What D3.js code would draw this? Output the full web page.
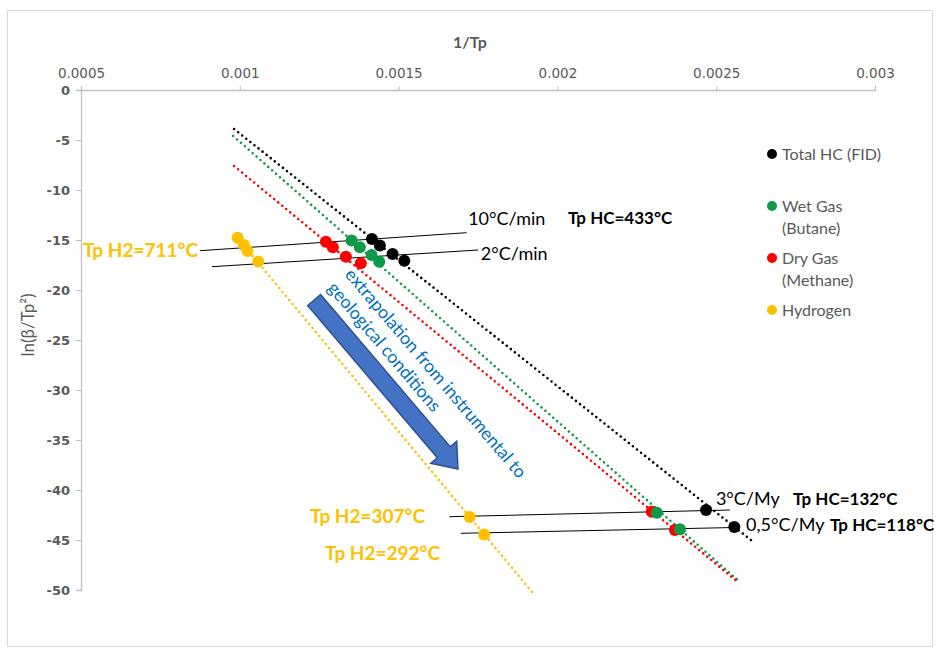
<!DOCTYPE html>
<html><head><meta charset="utf-8">
<script src="https://cdn.jsdelivr.net/npm/d3@7"></script>
<style>body{margin:0;background:#fff}svg{display:block}</style>
</head><body>
<svg id="chart" width="940" height="658"></svg>
<script>
// ---------- data ----------
const xTickValues = [0.0005, 0.001, 0.0015, 0.002, 0.0025, 0.003];
const xTickLabels = ["0.0005", "0.001", "0.0015", "0.002", "0.0025", "0.003"];
const yTickValues = [0, -5, -10, -15, -20, -25, -30, -35, -40, -45, -50];
const yTickLabels = ["0", "-5", "-10", "-15", "-20", "-25", "-30", "-35", "-40", "-45", "-50"];

const seriesNames = ["Total HC (FID)", "Wet Gas\n(Butane)", "Dry Gas\n(Methane)", "Hydrogen"];
const seriesColors = ["#000000", "#0E9A48", "#FF0000", "#FFC000"];

// measured (lab) points: 1/Tp, ln(beta/Tp^2)
const totalHCLab = [[0.001416, -14.9], [0.001441, -15.55], [0.001481, -16.4], [0.001518, -17.07]];
const wetGasLab  = [[0.001352, -15.05], [0.001378, -15.73], [0.001415, -16.5], [0.001439, -17.17]];
const dryGasLab  = [[0.001271, -15.17], [0.001293, -15.73], [0.001334, -16.67], [0.001381, -17.33]];
const hydrogenLab = [[0.000993, -14.78], [0.001013, -15.5], [0.001024, -16.1], [0.001058, -17.15]];

// extrapolated (geological) points
const totalHCGeo = [[0.002468, -42.0], [0.002557, -43.71]];
const wetGasGeo  = [[0.002313, -42.27], [0.002386, -43.93]];
const dryGasGeo  = [[0.002297, -42.17], [0.00237, -44.0]];
const hydrogenGeo = [[0.001724, -42.71], [0.001769, -44.45]];

// fitted (dotted) trend lines: start/end
const totalHCFit = [[0.000982, -3.9], [0.002613, -45.1]];
const wetGasFit  = [[0.000979, -4.6], [0.00257, -49.07]];
const dryGasFit  = [[0.000982, -7.6], [0.00257, -49.25]];
const hydrogenFit = [[0.000988, -14.6], [0.00192, -50.2]];

// iso-heating-rate guide lines
const guideLines = [
  [[0.000875, -16.07], [0.001714, -14.27]],   // 10°C/min
  [[0.000912, -17.67], [0.00175, -16.0]],     // 2°C/min
  [[0.00166, -42.67], [0.002543, -42.0]],     // 3°C/My
  [[0.001696, -44.33], [0.002557, -43.75]]    // 0,5°C/My
];

// annotations (anchor in data units)
const annotations = [
  {t: "10°C/min", x: 0.001719, y: -13.5, c: "#000", w: "normal", s: 18},
  {t: "2°C/min", x: 0.001759, y: -17.0, c: "#000", w: "normal", s: 18},
  {t: "Tp HC=433°C", x: 0.002033, y: -13.4, c: "#000", w: "bold", s: 17},
  {t: "Tp H2=711°C", x: 0.000506, y: -16.7, c: "#FFC000", w: "bold", s: 19},
  {t: "3°C/My", x: 0.002499, y: -41.5, c: "#000", w: "normal", s: 18},
  {t: "Tp HC=132°C", x: 0.002742, y: -41.5, c: "#000", w: "bold", s: 17},
  {t: "0,5°C/My", x: 0.002594, y: -44.1, c: "#000", w: "normal", s: 18},
  {t: "Tp HC=118°C", x: 0.002858, y: -44.1, c: "#000", w: "bold", s: 17},
  {t: "Tp H2=307°C", x: 0.001221, y: -43.3, c: "#FFC000", w: "bold", s: 19},
  {t: "Tp H2=292°C", x: 0.001268, y: -47.0, c: "#FFC000", w: "bold", s: 19}
];
const arrowTail = [0.001234, -21.0];
const arrowTip = [0.001687, -37.9];
const arrowText = ["extrapolation from instrumental to", "geological conditions"];

// ---------- drawing ----------
const svg = d3.select("#chart");
const FONT = "Lato, 'Open Sans', sans-serif";
const x = d3.scaleLinear().domain([0.0005, 0.003]).range([81, 875]);
const y = d3.scaleLinear().domain([0, -50]).range([90, 590]);

svg.append("rect").attr("x", 7.5).attr("y", 10.5).attr("width", 925).attr("height", 636)
  .attr("fill", "#fff").attr("stroke", "#D9D9D9").attr("stroke-width", 1);

// axes
const xAxis = d3.axisTop(x).tickValues(xTickValues).tickSize(4).tickPadding(8)
  .tickFormat((d, i) => xTickLabels[i]);
const gx = svg.append("g").attr("transform", `translate(0,${y(0)})`).call(xAxis);
gx.select(".domain").attr("stroke", "#BFBFBF").attr("stroke-width", 1.3);
gx.selectAll(".tick line").attr("stroke", "#BFBFBF");
gx.selectAll(".tick text").attr("fill", "#595959").style("font-family", "'DejaVu Sans', sans-serif")
  .style("font-size", "13.5px");

const yAxis = d3.axisLeft(y).tickValues(yTickValues).tickSize(5).tickPadding(6)
  .tickFormat((d, i) => yTickLabels[i]);
const gy = svg.append("g").attr("transform", `translate(${x(0.0005)},0)`).call(yAxis);
gy.select(".domain").attr("stroke", "#BFBFBF").attr("stroke-width", 1.3);
gy.selectAll(".tick line").attr("stroke", "#BFBFBF");
gy.selectAll(".tick text").attr("fill", "#595959").style("font-family", "'DejaVu Sans', sans-serif")
  .style("font-size", "13px").style("font-weight", "bold");

svg.append("text").attr("x", 470).attr("y", 48).attr("text-anchor", "middle")
  .attr("fill", "#595959").style("font-family", FONT).style("font-size", "16px").style("font-weight", "bold").text("1/Tp");
svg.append("text").attr("transform", "translate(34,325) rotate(-90)").attr("text-anchor", "middle")
  .attr("fill", "#595959").style("font-family", FONT).style("font-size", "17px").text("ln(β/Tp²)");

// dotted fit lines
const fits = [totalHCFit, wetGasFit, dryGasFit, hydrogenFit];
const line = d3.line().x(d => x(d[0])).y(d => y(d[1]));
svg.append("g").selectAll("path").data(fits).join("path")
  .attr("d", line).attr("fill", "none").attr("stroke", (d, i) => seriesColors[i])
  .attr("stroke-width", 2.6).attr("stroke-linecap", "round").attr("stroke-dasharray", "0,5.2");

// guide lines
svg.append("g").selectAll("path").data(guideLines).join("path")
  .attr("d", line).attr("fill", "none").attr("stroke", "#000").attr("stroke-width", 1);

// arrow
(function () {
  const tx = x(arrowTail[0]), ty = y(arrowTail[1]), hx = x(arrowTip[0]), hy = y(arrowTip[1]);
  const L = Math.hypot(hx - tx, hy - ty), ux = (hx - tx) / L, uy = (hy - ty) / L;
  const px = -uy, py = ux;
  const sw = 8.5, hw = 17, hl = 22;
  const bx = hx - ux * hl, by = hy - uy * hl;
  const pts = [
    [tx + px * sw, ty + py * sw], [bx + px * sw, by + py * sw], [bx + px * hw, by + py * hw],
    [hx, hy], [bx - px * hw, by - py * hw], [bx - px * sw, by - py * sw], [tx - px * sw, ty - py * sw]
  ];
  svg.append("path").attr("d", "M" + pts.map(p => p.join(",")).join("L") + "Z")
    .attr("fill", "#4472C4").attr("stroke", "#2F528F").attr("stroke-width", 1.5);
  const ang = Math.atan2(uy, ux) * 180 / Math.PI;
  const g = svg.append("g").attr("transform", `translate(${tx + 30},${ty - 25}) rotate(${ang})`);
  g.selectAll("text").data(arrowText).join("text")
    .attr("x", (d, i) => i === 0 ? 0 : -1).attr("y", (d, i) => i * 22)
    .attr("fill", "#0070C0").style("font-family", FONT).style("font-size", "17.8px").text(d => d);
})();

// points
const labSets = [totalHCLab, wetGasLab, dryGasLab, hydrogenLab];
const geoSets = [totalHCGeo, wetGasGeo, dryGasGeo, hydrogenGeo];
[2, 1, 0, 3].forEach(i => {
  svg.append("g").selectAll("circle").data(labSets[i].concat(geoSets[i])).join("circle")
    .attr("cx", d => x(d[0])).attr("cy", d => y(d[1])).attr("r", 6).attr("fill", seriesColors[i]);
});

// annotations
svg.append("g").selectAll("text").data(annotations).join("text")
  .attr("x", d => x(d.x)).attr("y", d => y(d.y)).attr("fill", d => d.c)
  .style("font-family", FONT).style("font-size", d => d.s + "px").style("font-weight", d => d.w)
  .text(d => d.t);

// legend
const legY = [154, 206, 258, 310];
const leg = svg.append("g");
seriesNames.forEach((n, i) => {
  leg.append("circle").attr("cx", 772).attr("cy", legY[i]).attr("r", 5).attr("fill", seriesColors[i]);
  n.split("\n").forEach((s, j) => {
    leg.append("text").attr("x", 782).attr("y", legY[i] + 5.5 + j * 22).attr("fill", "#595959")
      .style("font-family", FONT).style("font-size", "16px").text(s);
  });
});
</script>
</body></html>
